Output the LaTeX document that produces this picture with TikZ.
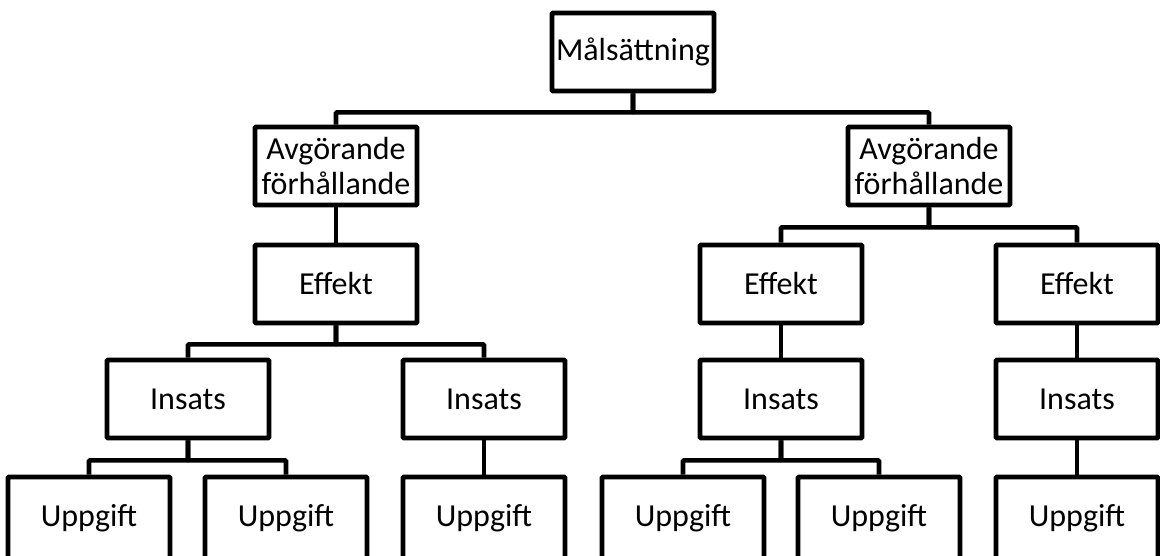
\documentclass[tikz,border=0pt]{standalone}
\usepackage{fontspec}
\setmainfont{Carlito}
\begin{document}
\begin{tikzpicture}[x=1pt,y=-1pt,
  box/.style={draw=black, line width=4.7pt, rounded corners=1pt, fill=white,
    minimum width=162pt, minimum height=78pt, inner sep=0pt, align=center,
    font=\fontsize{32}{35.5}\selectfont},
  leafbox/.style={box, minimum height=82pt},
  link/.style={draw=black, line width=4.7pt, rounded corners=1pt}]
  \useasboundingbox (0,0) rectangle (1160,555);
  \clip (0,0) rectangle (1160,555);

  % goal
  \node[box] (goal) at (633,52) {Målsättning};

  % decisive conditions
  \node[box] (condL) at (336,166) {Avgörande\\förhållande};
  \node[box] (condR) at (929,166) {Avgörande\\förhållande};

  % effects
  \node[box] (effL)  at (336,284)  {Effekt};
  \node[box] (effR1) at (781,284)  {Effekt};
  \node[box] (effR2) at (1077,284) {Effekt};

  % efforts
  \node[box] (insL)  at (188,399)  {Insats};
  \node[box] (insM)  at (484,399)  {Insats};
  \node[box] (insR1) at (781,399)  {Insats};
  \node[box] (insR2) at (1077,399) {Insats};

  % tasks
  \node[leafbox] (taskA) at (89,518)   {Uppgift};
  \node[leafbox] (taskB) at (286,518)  {Uppgift};
  \node[leafbox] (taskC) at (484,518)  {Uppgift};
  \node[leafbox] (taskD) at (683,518)  {Uppgift};
  \node[leafbox] (taskE) at (879,518)  {Uppgift};
  \node[leafbox] (taskF) at (1077,518) {Uppgift};

  % tree connectors
  \path[link] (goal.south) -- ++(0,19) -| (condL.north);
  \path[link] (goal.south) -- ++(0,19) -| (condR.north);

  \path[link] (condL.south) -- (effL.north);
  \path[link] (condR.south) -- ++(0,20) -| (effR1.north);
  \path[link] (condR.south) -- ++(0,20) -| (effR2.north);

  \path[link] (effL.south) -- ++(0,19) -| (insL.north);
  \path[link] (effL.south) -- ++(0,19) -| (insM.north);
  \path[link] (effR1.south) -- (insR1.north);
  \path[link] (effR2.south) -- (insR2.north);

  \path[link] (insL.south) -- ++(0,20) -| (taskA.north);
  \path[link] (insL.south) -- ++(0,20) -| (taskB.north);
  \path[link] (insM.south) -- (taskC.north);
  \path[link] (insR1.south) -- ++(0,20) -| (taskD.north);
  \path[link] (insR1.south) -- ++(0,20) -| (taskE.north);
  \path[link] (insR2.south) -- (taskF.north);
\end{tikzpicture}
\end{document}
